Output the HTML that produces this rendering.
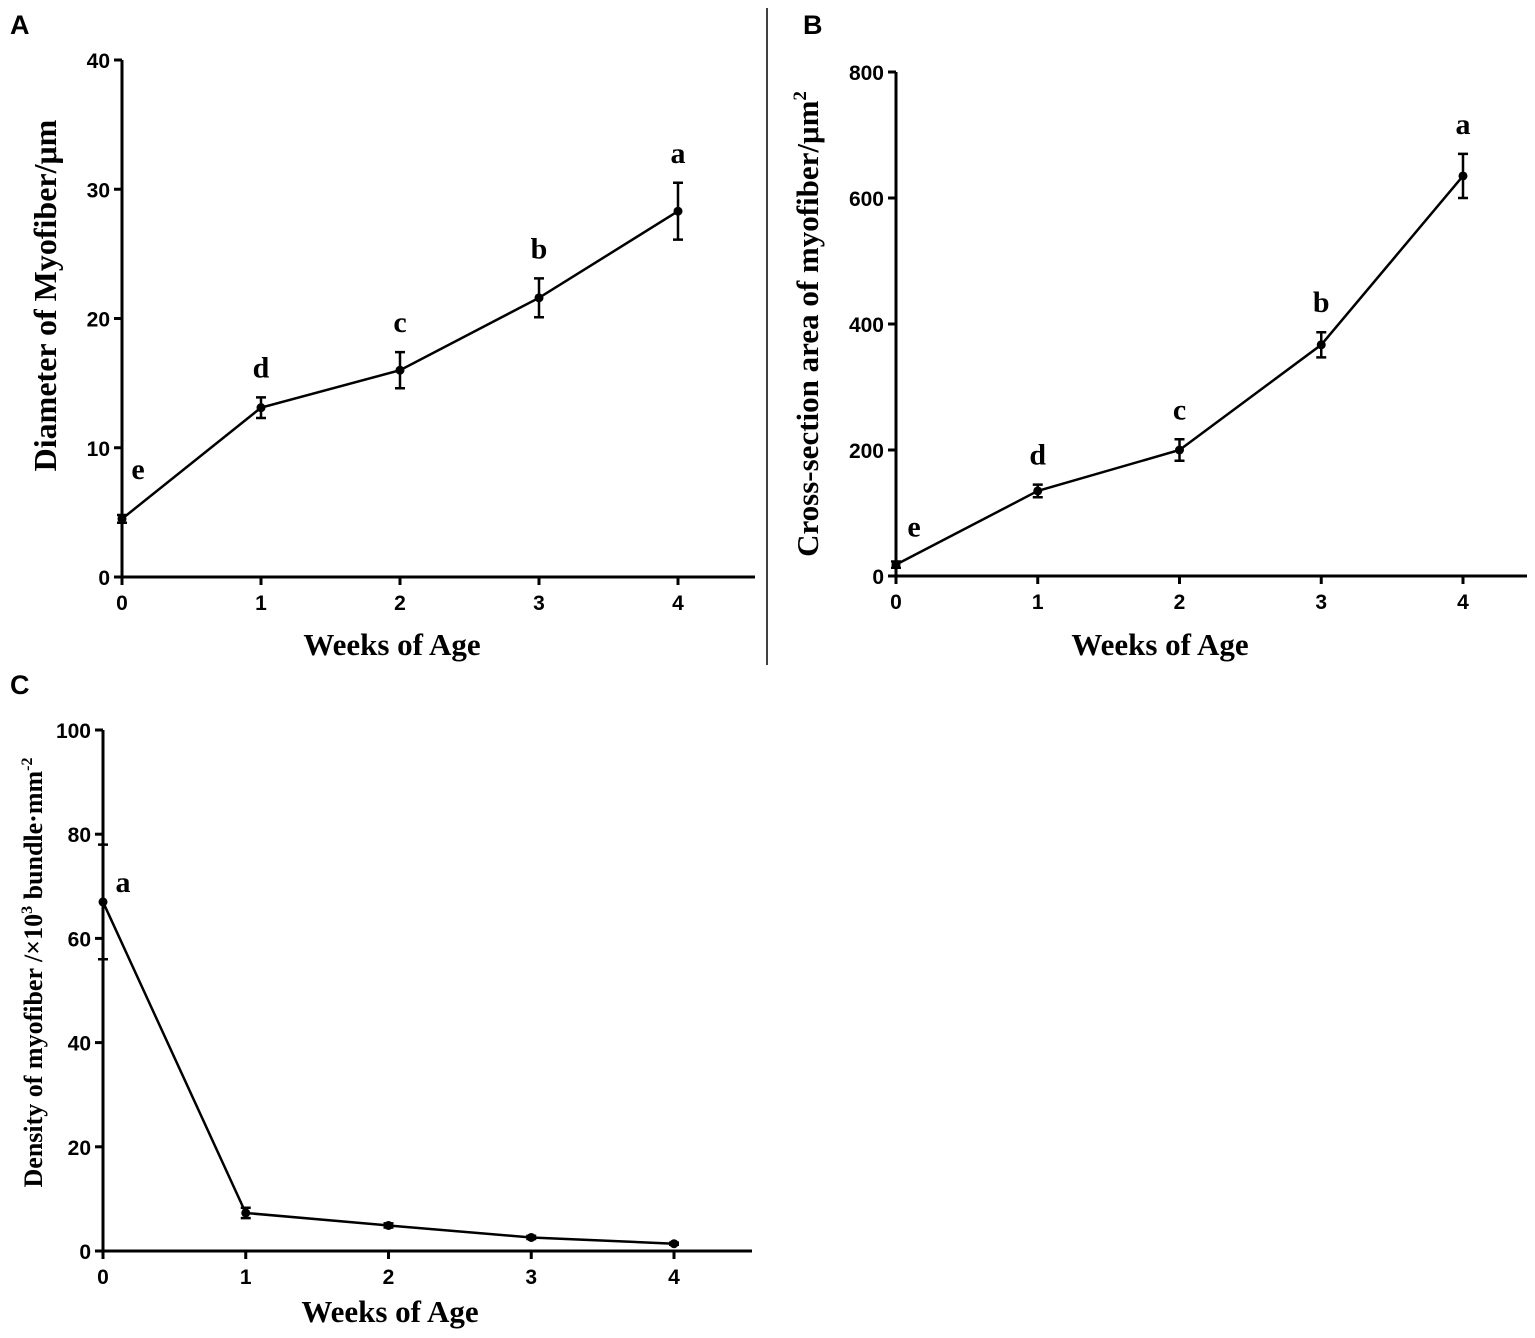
<!DOCTYPE html>
<html><head><meta charset="utf-8"><style>
body{margin:0;background:#fff;}
svg{display:block;}
.tk{font-family:"Liberation Sans",sans-serif;font-weight:bold;font-size:21px;}
.ti{font-family:"Liberation Serif",serif;font-weight:bold;}
</style></head><body>
<svg id="s" width="1535" height="1338" viewBox="0 0 1535 1338">
<line x1="767" y1="8" x2="767" y2="665" stroke="#000" stroke-width="1.5"/>
<text x="10" y="34" font-family="Liberation Sans" font-weight="bold" font-size="27">A</text>
<text x="803" y="34" font-family="Liberation Sans" font-weight="bold" font-size="27">B</text>
<text x="10" y="694" font-family="Liberation Sans" font-weight="bold" font-size="27">C</text>
</svg>
<script>
const weeks=[0,1,2,3,4];
const aVals=[4.5,13.1,16.0,21.6,28.3];
const aErr=[0.3,0.8,1.4,1.5,2.2];
const aLetters=['e','d','c','b','a'];
const aTicks=[0,10,20,30,40];
const bVals=[18,135,200,367,635];
const bErr=[5,10,17,20,35];
const bLetters=['e','d','c','b','a'];
const bTicks=[0,200,400,600,800];
const cVals=[67,7.3,4.9,2.6,1.4];
const cErr=[11,1,0.4,0.3,0.2];
const cLetters=['a','','','',''];
const cTicks=[0,20,40,60,80,100];
const NS='http://www.w3.org/2000/svg';
const svg=document.getElementById('s');
function mk(t,a,p){const e=document.createElementNS(NS,t);for(const k in a)e.setAttribute(k,a[k]);(p||svg).appendChild(e);return e;}
function panel(o){
  const g=mk('g',{});
  
  
  const sx=v=>o.x0+(o.x1-o.x0)*v/4;
  const sy=v=>o.y0-(o.y0-o.y1)*v/o.ymax;
  const ax=mk('path',{d:`M${o.x0},${o.y1}V${o.y0}H${o.xe}`,stroke:'#000','stroke-width':3,fill:'none'},g);
  
  
  o.ticks.forEach(t=>{
    mk('line',{x1:o.x0-8,x2:o.x0,y1:sy(t),y2:sy(t),stroke:'#000','stroke-width':3},g);
    const tx=mk('text',{x:o.x0-12,y:sy(t)+8,'text-anchor':'end',class:'tk'},g);
    
    
    tx.textContent=t;
  });
  weeks.forEach(w=>{
    mk('line',{x1:sx(w),x2:sx(w),y1:o.y0,y2:o.y0+8,stroke:'#000','stroke-width':3},g);
    const tx=mk('text',{x:sx(w),y:o.y0+33,'text-anchor':'middle',class:'tk'},g);
    
    
    tx.textContent=w;
  });
  const ln=mk('polyline',{points:weeks.map((w,i)=>sx(w)+','+sy(o.vals[i])).join(' '),stroke:'#000','stroke-width':2.5,fill:'none'},g);
  
  
  weeks.forEach((w,i)=>{
    const x=sx(w),yt=sy(o.vals[i]+o.err[i]),yb=sy(o.vals[i]-o.err[i]);
    const eb=mk('path',{d:`M${x},${yt}V${yb}M${x-5},${yt}H${x+5}M${x-5},${yb}H${x+5}`,stroke:'#000','stroke-width':2.5,fill:'none'},g);
    
    
    const p=mk('circle',{cx:x,cy:sy(o.vals[i]),r:4.5,fill:'#000'},g);
    
    
    if(o.letters[i]){
      const lt=mk('text',{x:i==0?x+o.lx0:x,y:i==0?sy(o.vals[i])+o.ly0:yt-20,'text-anchor':'middle',class:'ti','font-size':30},g);
      
      
      lt.textContent=o.letters[i];
    }
  });
  const xt=mk('text',{x:o.xtx,y:o.xty,'text-anchor':'middle',class:'ti','font-size':31},g);
  
  
  xt.textContent='Weeks of Age';
  const yt=mk('text',{x:0,y:0,'text-anchor':'middle',class:'ti','font-size':o.yfs,transform:`translate(${o.ytx},${(o.y0+o.y1)/2+o.yoff}) rotate(-90)`},g);
  
  
  yt.innerHTML=o.ytitle;
}
panel({name:'panel-a',x0:122,x1:678,xe:755,y0:577,y1:60,ymax:40,ticks:aTicks,vals:aVals,err:aErr,letters:aLetters,lx0:16,ly0:-40,xtx:392,xty:655,ytx:56,yfs:32,yoff:-23,ytitle:'Diameter of Myofiber/μm'});
panel({name:'panel-b',x0:896,x1:1463,xe:1527,y0:576,y1:72,ymax:800,ticks:bTicks,vals:bVals,err:bErr,letters:bLetters,lx0:18,ly0:-28,xtx:1160,xty:655,ytx:818,yfs:31,yoff:0,ytitle:'Cross-section area of myofiber/μm<tspan dy="-12" font-size="19">2</tspan>'});
panel({name:'panel-c',x0:103,x1:674,xe:752,y0:1251,y1:730,ymax:100,ticks:cTicks,vals:cVals,err:cErr,letters:cLetters,lx0:20,ly0:-10,xtx:390,xty:1322,ytx:42,yfs:26,yoff:-18,ytitle:'Density of myofiber /×10<tspan dy="-10" font-size="16">3</tspan><tspan dy="10"> bundle·mm</tspan><tspan dy="-10" font-size="16">-2</tspan>'});
</script>
</body></html>
